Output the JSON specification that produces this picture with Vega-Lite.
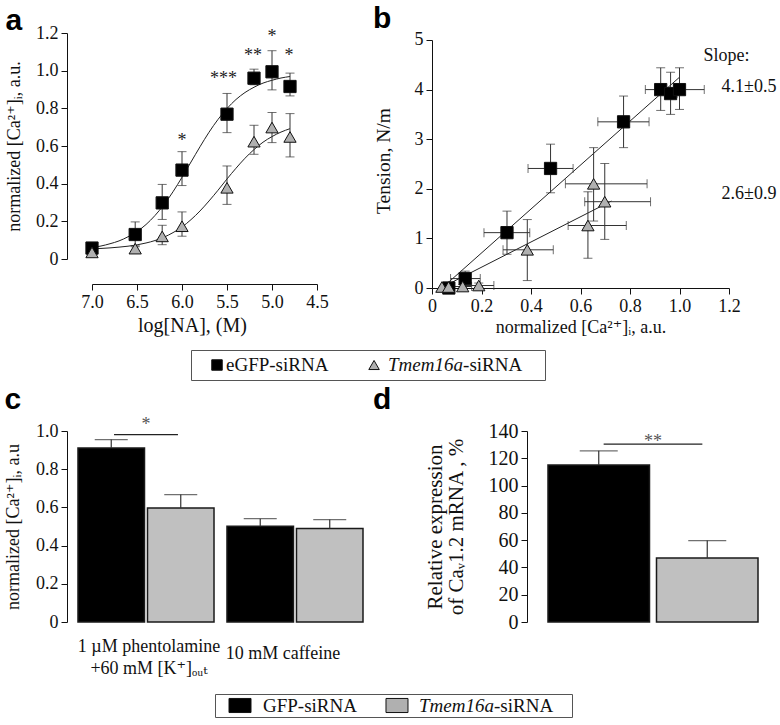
{
  "$schema": "https://vega.github.io/schema/vega-lite/v6.json",
  "background": "white",
  "padding": {"left": 4, "top": 3, "right": 0, "bottom": 0},
  "columns": 1,
  "spacing": 4,
  "config": {
    "view": {"stroke": null},
    "font": "Liberation Serif, DejaVu Serif, serif",
    "axis": {"labelFont": "Liberation Serif, DejaVu Serif, serif", "titleFont": "Liberation Serif, DejaVu Serif, serif", "labelFontSize": 18, "titleFontSize": 18, "titleFontWeight": "normal", "labelColor": "#111", "titleColor": "#111", "domainColor": "#111", "tickColor": "#111", "grid": false, "tickSize": 6, "labelPadding": 3, "domainWidth": 1, "tickWidth": 1, "labelOverlap": false, "labelFlush": false, "tickCount": 30},
    "title": {"font": "Liberation Sans, Arial, sans-serif", "fontSize": 30, "fontWeight": "bold", "anchor": "start", "frame": "bounds", "baseline": "top", "color": "#000"},
    "text": {"font": "Liberation Serif, DejaVu Serif, serif"}
  },
  "datasets": {
    "a_pts": [
      {"grp": "e", "p": 7.0, "v": 0.058, "lo": 0.04, "hi": 0.08},
      {"grp": "e", "p": 6.52, "v": 0.13, "lo": 0.065, "hi": 0.197},
      {"grp": "e", "p": 6.22, "v": 0.298, "lo": 0.21, "hi": 0.396},
      {"grp": "e", "p": 6.0, "v": 0.472, "lo": 0.39, "hi": 0.57},
      {"grp": "e", "p": 5.5, "v": 0.769, "lo": 0.671, "hi": 0.879},
      {"grp": "e", "p": 5.2, "v": 0.96, "lo": 0.925, "hi": 1.008},
      {"grp": "e", "p": 5.0, "v": 0.994, "lo": 0.898, "hi": 1.106},
      {"grp": "e", "p": 4.8, "v": 0.916, "lo": 0.866, "hi": 0.987},
      {"grp": "t", "p": 7.0, "v": 0.035, "lo": 0.022, "hi": 0.055},
      {"grp": "t", "p": 6.52, "v": 0.055, "lo": 0.04, "hi": 0.07},
      {"grp": "t", "p": 6.22, "v": 0.12, "lo": 0.076, "hi": 0.179},
      {"grp": "t", "p": 6.0, "v": 0.174, "lo": 0.121, "hi": 0.25},
      {"grp": "t", "p": 5.5, "v": 0.378, "lo": 0.29, "hi": 0.494},
      {"grp": "t", "p": 5.2, "v": 0.623, "lo": 0.556, "hi": 0.71},
      {"grp": "t", "p": 5.0, "v": 0.698, "lo": 0.618, "hi": 0.778},
      {"grp": "t", "p": 4.8, "v": 0.648, "lo": 0.542, "hi": 0.772}
    ],
    "a_fit": [
      {"grp": "e", "p": 7.0, "v": 0.061}, {"grp": "e", "p": 6.9, "v": 0.069}, {"grp": "e", "p": 6.8, "v": 0.081}, {"grp": "e", "p": 6.7, "v": 0.096},
      {"grp": "e", "p": 6.6, "v": 0.118}, {"grp": "e", "p": 6.5, "v": 0.146}, {"grp": "e", "p": 6.4, "v": 0.183}, {"grp": "e", "p": 6.3, "v": 0.231},
      {"grp": "e", "p": 6.2, "v": 0.289}, {"grp": "e", "p": 6.1, "v": 0.357}, {"grp": "e", "p": 6.0, "v": 0.434}, {"grp": "e", "p": 5.9, "v": 0.515},
      {"grp": "e", "p": 5.8, "v": 0.596}, {"grp": "e", "p": 5.7, "v": 0.673}, {"grp": "e", "p": 5.6, "v": 0.741}, {"grp": "e", "p": 5.5, "v": 0.799},
      {"grp": "e", "p": 5.4, "v": 0.847}, {"grp": "e", "p": 5.3, "v": 0.884}, {"grp": "e", "p": 5.2, "v": 0.912}, {"grp": "e", "p": 5.1, "v": 0.934},
      {"grp": "e", "p": 5.0, "v": 0.949}, {"grp": "e", "p": 4.9, "v": 0.961}, {"grp": "e", "p": 4.8, "v": 0.969},
      {"grp": "t", "p": 7.0, "v": 0.055}, {"grp": "t", "p": 6.9, "v": 0.056}, {"grp": "t", "p": 6.8, "v": 0.059}, {"grp": "t", "p": 6.7, "v": 0.063},
      {"grp": "t", "p": 6.6, "v": 0.068}, {"grp": "t", "p": 6.5, "v": 0.075}, {"grp": "t", "p": 6.4, "v": 0.085}, {"grp": "t", "p": 6.3, "v": 0.098},
      {"grp": "t", "p": 6.2, "v": 0.116}, {"grp": "t", "p": 6.1, "v": 0.14}, {"grp": "t", "p": 6.0, "v": 0.17}, {"grp": "t", "p": 5.9, "v": 0.209},
      {"grp": "t", "p": 5.8, "v": 0.255}, {"grp": "t", "p": 5.7, "v": 0.308}, {"grp": "t", "p": 5.6, "v": 0.365}, {"grp": "t", "p": 5.5, "v": 0.425},
      {"grp": "t", "p": 5.4, "v": 0.482}, {"grp": "t", "p": 5.3, "v": 0.535}, {"grp": "t", "p": 5.2, "v": 0.581}, {"grp": "t", "p": 5.1, "v": 0.62},
      {"grp": "t", "p": 5.0, "v": 0.65}, {"grp": "t", "p": 4.9, "v": 0.674}, {"grp": "t", "p": 4.8, "v": 0.692}
    ],
    "a_star": [
      {"p": 6.0, "v": 0.644, "t": "*"},
      {"p": 5.54, "v": 0.973, "t": "***"},
      {"p": 5.21, "v": 1.094, "t": "**"},
      {"p": 5.0, "v": 1.195, "t": "*"},
      {"p": 4.81, "v": 1.094, "t": "*"}
    ],
    "b_pts": [
      {"grp": "e", "x": 0.068, "y": 0.0},
      {"grp": "e", "x": 0.134, "y": 0.19, "xlo": 0.075, "xhi": 0.195, "ylo": 0.04, "yhi": 0.34},
      {"grp": "e", "x": 0.303, "y": 1.116, "xlo": 0.21, "xhi": 0.395, "ylo": 0.68, "yhi": 1.55},
      {"grp": "e", "x": 0.479, "y": 2.41, "xlo": 0.388, "xhi": 0.57, "ylo": 1.92, "yhi": 2.9},
      {"grp": "e", "x": 0.774, "y": 3.35, "xlo": 0.67, "xhi": 0.877, "ylo": 2.83, "yhi": 3.87},
      {"grp": "e", "x": 0.924, "y": 4.0, "xlo": 0.862, "xhi": 0.98, "ylo": 3.58, "yhi": 4.44},
      {"grp": "e", "x": 0.964, "y": 3.92, "xlo": 0.94, "xhi": 0.99, "ylo": 3.5, "yhi": 4.35},
      {"grp": "e", "x": 1.0, "y": 4.0, "xlo": 0.94, "xhi": 1.1, "ylo": 3.6, "yhi": 4.44},
      {"grp": "t", "x": 0.04, "y": 0.02},
      {"grp": "t", "x": 0.067, "y": 0.02},
      {"grp": "t", "x": 0.124, "y": 0.03, "xlo": 0.09, "xhi": 0.16, "ylo": 0.0, "yhi": 0.07},
      {"grp": "t", "x": 0.189, "y": 0.05, "xlo": 0.125, "xhi": 0.25, "ylo": 0.0, "yhi": 0.1},
      {"grp": "t", "x": 0.385, "y": 0.77, "xlo": 0.287, "xhi": 0.49, "ylo": 0.15, "yhi": 1.38},
      {"grp": "t", "x": 0.63, "y": 1.26, "xlo": 0.55, "xhi": 0.785, "ylo": 0.6, "yhi": 1.94},
      {"grp": "t", "x": 0.653, "y": 2.1, "xlo": 0.539, "xhi": 0.869, "ylo": 1.35, "yhi": 2.83},
      {"grp": "t", "x": 0.698, "y": 1.74, "xlo": 0.617, "xhi": 0.883, "ylo": 0.98, "yhi": 2.51}
    ],
    "b_fit": [
      {"grp": "e", "x": 0.065, "y": 0.108}, {"grp": "e", "x": 1.0, "y": 4.25},
      {"grp": "t", "x": 0.051, "y": 0.04}, {"grp": "t", "x": 0.725, "y": 1.754}
    ],
    "b_txt": [
      {"x": 1.097, "y": 4.68, "t": "Slope:"},
      {"x": 1.17, "y": 4.05, "t": "4.1±0.5"},
      {"x": 1.17, "y": 1.89, "t": "2.6±0.9"}
    ],
    "c_bars": [
      {"cond": "phe", "si": "GFP", "v": 0.911, "hi": 0.955},
      {"cond": "phe", "si": "Tmem", "v": 0.597, "hi": 0.667},
      {"cond": "caf", "si": "GFP", "v": 0.501, "hi": 0.541},
      {"cond": "caf", "si": "Tmem", "v": 0.489, "hi": 0.536}
    ],
    "c_sig": [{"cond": "phe", "y": 0.978, "y2": 0.984, "ty": 1.047, "t": "*"}],
    "d_bars": [
      {"g": "all", "si": "GFP", "v": 115, "hi": 125.5},
      {"g": "all", "si": "Tmem", "v": 47, "hi": 59.7}
    ],
    "d_sig": [{"g": "all", "y": 130, "y2": 130.8, "ty": 134.3, "t": "**"}]
  },
  "concat": [
    {
      "spacing": 44,
      "hconcat": [
        {
          "width": 250, "height": 226,
          "title": {"text": "a", "offset": -12},
          "layer": [
            {
              "data": {"name": "a_fit"},
              "mark": {"type": "line", "color": "#222", "strokeWidth": 1, "interpolate": "monotone"},
              "encoding": {
                "x": {"field": "p", "type": "quantitative", "scale": {"domain": [7.2778, 4.5], "nice": false, "zero": false},
                      "axis": {"values": [7, 6.5, 6, 5.5, 5, 4.5], "labelExpr": "format(datum.value, '.1f')", "labelOverlap": false, "offset": 25, "domainDash": [0, 25, 225, 0], "title": "log[NA], (M)", "titleFontSize": 20, "titlePadding": 4}},
                "y": {"field": "v", "type": "quantitative", "scale": {"domain": [0, 1.2], "nice": false, "zero": false},
                      "axis": {"values": [0, 0.2, 0.4, 0.6, 0.8, 1.0, 1.2], "labelExpr": "datum.value == 0 ? '0' : format(datum.value, '.1f')", "labelOverlap": false, "title": "normalized [Ca²⁺]ᵢ, a.u.", "titlePadding": 12}},
                "detail": {"field": "grp"}
              }
            },
            {
              "data": {"name": "a_pts"},
              "mark": {"type": "rule", "color": "#333", "strokeWidth": 1},
              "encoding": {"x": {"field": "p", "type": "quantitative"}, "y": {"field": "lo", "type": "quantitative"}, "y2": {"field": "hi"}}
            },
            {
              "data": {"name": "a_pts"},
              "mark": {"type": "tick", "orient": "horizontal", "color": "#333", "size": 9, "thickness": 1},
              "encoding": {"x": {"field": "p", "type": "quantitative"}, "y": {"field": "hi", "type": "quantitative"}}
            },
            {
              "data": {"name": "a_pts"},
              "mark": {"type": "tick", "orient": "horizontal", "color": "#333", "size": 9, "thickness": 1},
              "encoding": {"x": {"field": "p", "type": "quantitative"}, "y": {"field": "lo", "type": "quantitative"}}
            },
            {
              "data": {"name": "a_pts"},
              "mark": {"type": "point", "filled": true, "size": 150, "stroke": "#111", "strokeWidth": 1, "opacity": 1},
              "encoding": {
                "x": {"field": "p", "type": "quantitative"},
                "y": {"field": "v", "type": "quantitative"},
                "shape": {"field": "grp", "type": "nominal", "scale": {"domain": ["e", "t"], "range": ["square", "triangle-up"]}, "legend": null},
                "fill": {"field": "grp", "type": "nominal", "scale": {"domain": ["e", "t"], "range": ["#000000", "#b0b0b0"]}, "legend": null}
              }
            },
            {
              "data": {"name": "a_star"},
              "mark": {"type": "text", "fontSize": 18, "baseline": "alphabetic", "dy": 8, "color": "#222"},
              "encoding": {"x": {"field": "p", "type": "quantitative"}, "y": {"field": "v", "type": "quantitative"}, "text": {"field": "t"}}
            }
          ]
        },
        {
          "width": 297, "height": 255,
          "title": {"text": "b", "offset": -3},
          "layer": [
            {
              "data": {"name": "b_fit"},
              "mark": {"type": "line", "color": "#222", "strokeWidth": 1},
              "encoding": {
                "x": {"field": "x", "type": "quantitative", "scale": {"domain": [0, 1.2], "nice": false},
                      "axis": {"values": [0, 0.2, 0.4, 0.6, 0.8, 1.0, 1.2], "labelExpr": "datum.value == 0 ? '0' : format(datum.value, '.1f')", "labelOverlap": false, "title": "normalized [Ca²⁺]ᵢ, a.u.", "titlePadding": 3}},
                "y": {"field": "y", "type": "quantitative", "scale": {"domain": [0, 5.1411], "nice": false},
                      "axis": {"values": [0, 1, 2, 3, 4, 5], "format": "d", "labelOverlap": false, "domainDash": [248, 60], "title": "Tension, N/m", "titleFontSize": 19.5, "titlePadding": 21}},
                "detail": {"field": "grp"}
              }
            },
            {
              "data": {"name": "b_pts"},
              "transform": [{"filter": "isValid(datum.xlo)"}],
              "mark": {"type": "rule", "color": "#333", "strokeWidth": 1},
              "encoding": {"x": {"field": "x", "type": "quantitative"}, "y": {"field": "ylo", "type": "quantitative"}, "y2": {"field": "yhi"}}
            },
            {
              "data": {"name": "b_pts"},
              "transform": [{"filter": "isValid(datum.xlo)"}],
              "mark": {"type": "rule", "color": "#333", "strokeWidth": 1},
              "encoding": {"x": {"field": "xlo", "type": "quantitative"}, "x2": {"field": "xhi"}, "y": {"field": "y", "type": "quantitative"}}
            },
            {
              "data": {"name": "b_pts"},
              "transform": [{"filter": "isValid(datum.xlo)"}, {"fold": ["ylo", "yhi"], "as": ["k", "cap"]}],
              "mark": {"type": "tick", "orient": "horizontal", "color": "#333", "size": 9, "thickness": 1},
              "encoding": {"x": {"field": "x", "type": "quantitative"}, "y": {"field": "cap", "type": "quantitative"}}
            },
            {
              "data": {"name": "b_pts"},
              "transform": [{"filter": "isValid(datum.xlo)"}, {"fold": ["xlo", "xhi"], "as": ["k", "cap"]}],
              "mark": {"type": "tick", "orient": "vertical", "color": "#333", "size": 9, "thickness": 1},
              "encoding": {"x": {"field": "cap", "type": "quantitative"}, "y": {"field": "y", "type": "quantitative"}}
            },
            {
              "data": {"name": "b_pts"},
              "mark": {"type": "point", "filled": true, "size": 150, "stroke": "#111", "strokeWidth": 1, "opacity": 1},
              "encoding": {
                "x": {"field": "x", "type": "quantitative"},
                "y": {"field": "y", "type": "quantitative"},
                "shape": {"field": "grp", "type": "nominal", "scale": {"domain": ["e", "t"], "range": ["square", "triangle-up"]}, "legend": null},
                "fill": {"field": "grp", "type": "nominal", "scale": {"domain": ["e", "t"], "range": ["#000000", "#b0b0b0"]}, "legend": null}
              }
            },
            {
              "data": {"name": "b_txt"},
              "mark": {"type": "text", "fontSize": 18, "align": "left", "baseline": "middle", "color": "#111"},
              "encoding": {"x": {"field": "x", "type": "quantitative"}, "y": {"field": "y", "type": "quantitative"}, "text": {"field": "t"}}
            }
          ]
        }
      ]
    },
    {
      "spacing": 0,
      "hconcat": [
        {"width": 123, "height": 30, "data": {"values": []}, "mark": "point"},
        {
          "width": 354, "height": 30,
          "title": {"text": " ", "fontSize": 2, "offset": 7},
          "view": {"stroke": "#555", "strokeWidth": 1},
          "encoding": {"x": {"field": "k", "type": "nominal", "axis": null, "scale": {"type": "point", "domain": ["e", "t"], "padding": 0.627, "align": 0.1066}}},
          "layer": [
            {
              "data": {"values": [{"k": "e"}, {"k": "t"}]},
              "mark": {"type": "point", "filled": true, "size": 110, "xOffset": 5, "stroke": "#111", "strokeWidth": 1, "opacity": 1},
              "encoding": {
                "shape": {"field": "k", "type": "nominal", "scale": {"domain": ["e", "t"], "range": ["square", "triangle-up"]}, "legend": null},
                "fill": {"field": "k", "type": "nominal", "scale": {"domain": ["e", "t"], "range": ["#000000", "#b0b0b0"]}, "legend": null}
              }
            },
            {
              "data": {"values": [{"k": "e", "lab": "eGFP-siRNA"}]},
              "mark": {"type": "text", "align": "left", "baseline": "middle", "dx": 14, "fontSize": 19, "color": "#111"},
              "encoding": {"text": {"field": "lab"}}
            },
            {
              "data": {"values": [{"k": "t", "lab": "Tmem16a"}]},
              "mark": {"type": "text", "align": "left", "baseline": "middle", "dx": 19, "fontSize": 19, "fontStyle": "italic", "color": "#111"},
              "encoding": {"text": {"field": "lab"}}
            },
            {
              "data": {"values": [{"k": "t", "lab": "-siRNA"}]},
              "mark": {"type": "text", "align": "left", "baseline": "middle", "dx": 94, "fontSize": 19, "color": "#111"},
              "encoding": {"text": {"field": "lab"}}
            }
          ]
        }
      ]
    },
    {
      "spacing": 6,
      "resolve": {"scale": {"x": "independent", "xOffset": "independent", "y": "independent", "fill": "independent"}},
      "hconcat": [
        {
          "width": 300, "height": 191,
          "title": {"text": "c", "offset": 1},
          "layer": [
            {
              "data": {"name": "c_bars"},
              "mark": {"type": "bar", "stroke": "#1a1a1a", "strokeWidth": 1.5},
              "encoding": {
                "x": {"field": "cond", "type": "nominal", "sort": ["phe", "caf"], "scale": {"domain": ["phe", "caf"], "paddingInner": 0.087, "paddingOuter": 0.0503, "align": 0.733},
                      "axis": {"title": null, "domain": false, "ticks": false, "labelAngle": 0, "labelLimit": 300, "labelBaseline": "middle", "labelLineHeight": 22, "labelOverlap": false,
                               "labelPadding": {"condition": {"test": "datum.value == 'caf'", "value": 31}, "value": 24},
                               "labelOffset": {"condition": {"test": "datum.value == 'caf'", "value": -12}, "value": 3},
                               "labelExpr": "datum.value == 'phe' ? ['1 µM phentolamine', '+60 mM [K⁺]ₒᵤₜ'] : '10 mM caffeine'"}},
                "xOffset": {"field": "si", "type": "nominal", "sort": ["GFP", "Tmem"], "scale": {"domain": ["GFP", "Tmem"], "paddingInner": 0.043, "paddingOuter": 0}},
                "y": {"field": "v", "type": "quantitative", "scale": {"domain": [0, 1], "nice": false},
                      "axis": {"values": [0, 0.2, 0.4, 0.6, 0.8, 1.0], "labelExpr": "datum.value == 0 ? '0' : format(datum.value, '.1f')", "labelOverlap": false, "title": "normalized [Ca²⁺]ᵢ, a.u", "titlePadding": 13}},
                "fill": {"field": "si", "type": "nominal", "scale": {"domain": ["GFP", "Tmem"], "range": ["#000000", "#c0c0c0"]}, "legend": null}
              }
            },
            {
              "data": {"name": "c_bars"},
              "mark": {"type": "rule", "color": "#333", "strokeWidth": 1.2},
              "encoding": {"x": {"field": "cond", "type": "nominal"}, "xOffset": {"field": "si", "type": "nominal"}, "y": {"field": "v", "type": "quantitative"}, "y2": {"field": "hi"}}
            },
            {
              "data": {"name": "c_bars"},
              "mark": {"type": "tick", "color": "#333", "size": 33, "thickness": 1.2},
              "encoding": {"x": {"field": "cond", "type": "nominal"}, "xOffset": {"field": "si", "type": "nominal"}, "y": {"field": "hi", "type": "quantitative"}}
            },
            {
              "data": {"name": "c_sig"},
              "mark": {"type": "bar", "width": {"band": 0.47}, "color": "#222"},
              "encoding": {"x": {"field": "cond", "type": "nominal"}, "y": {"field": "y", "type": "quantitative"}, "y2": {"field": "y2"}}
            },
            {
              "data": {"name": "c_sig"},
              "mark": {"type": "text", "fontSize": 18, "baseline": "alphabetic", "dy": 8, "color": "#555"},
              "encoding": {"x": {"field": "cond", "type": "nominal"}, "y": {"field": "ty", "type": "quantitative"}, "text": {"field": "t"}}
            }
          ]
        },
        {
          "width": 240, "height": 191,
          "title": {"text": "d", "offset": 6, "dx": -51},
          "layer": [
            {
              "data": {"name": "d_bars"},
              "mark": {"type": "bar", "stroke": "#1a1a1a", "strokeWidth": 1.5},
              "encoding": {
                "x": {"field": "g", "type": "nominal", "scale": {"domain": ["all"], "paddingInner": 0, "paddingOuter": 0.0714, "align": 0.7}, "axis": null},
                "xOffset": {"field": "si", "type": "nominal", "sort": ["GFP", "Tmem"], "scale": {"domain": ["GFP", "Tmem"], "paddingInner": 0.0645, "paddingOuter": 0}},
                "y": {"field": "v", "type": "quantitative", "scale": {"domain": [0, 140], "nice": false},
                      "axis": {"values": [0, 20, 40, 60, 80, 100, 120, 140], "format": "d", "labelOverlap": false, "labelFontSize": 20, "title": ["Relative expression", "of Caᵥ1.2 mRNA , %"], "titleFontSize": 21, "titlePadding": 22, "titleLineHeight": 21}},
                "fill": {"field": "si", "type": "nominal", "scale": {"domain": ["GFP", "Tmem"], "range": ["#000000", "#c0c0c0"]}, "legend": null}
              }
            },
            {
              "data": {"name": "d_bars"},
              "mark": {"type": "rule", "color": "#333", "strokeWidth": 1.2},
              "encoding": {"x": {"field": "g", "type": "nominal"}, "xOffset": {"field": "si", "type": "nominal"}, "y": {"field": "v", "type": "quantitative"}, "y2": {"field": "hi"}}
            },
            {
              "data": {"name": "d_bars"},
              "mark": {"type": "tick", "color": "#333", "size": 38, "thickness": 1.2},
              "encoding": {"x": {"field": "g", "type": "nominal"}, "xOffset": {"field": "si", "type": "nominal"}, "y": {"field": "hi", "type": "quantitative"}}
            },
            {
              "data": {"name": "d_sig"},
              "mark": {"type": "bar", "width": {"band": 0.47}, "color": "#222"},
              "encoding": {"x": {"field": "g", "type": "nominal"}, "y": {"field": "y", "type": "quantitative"}, "y2": {"field": "y2"}}
            },
            {
              "data": {"name": "d_sig"},
              "mark": {"type": "text", "fontSize": 18, "baseline": "alphabetic", "dy": 8, "color": "#555"},
              "encoding": {"x": {"field": "g", "type": "nominal"}, "y": {"field": "ty", "type": "quantitative"}, "text": {"field": "t"}}
            }
          ]
        }
      ]
    },
    {
      "spacing": 0,
      "hconcat": [
        {"width": 147, "height": 23, "data": {"values": []}, "mark": "point"},
        {
          "width": 357, "height": 23,
          "title": {"text": " ", "fontSize": 2, "offset": 10},
          "view": {"stroke": "#555", "strokeWidth": 1},
          "encoding": {"x": {"field": "k", "type": "nominal", "axis": null, "scale": {"type": "point", "domain": ["g", "t"], "padding": 0.637, "align": 0.07}}},
          "layer": [
            {
              "data": {"values": [{"k": "g"}, {"k": "t"}]},
              "mark": {"type": "point", "filled": true, "size": 484, "xOffset": 11, "shape": "M-1,-0.64H1V0.64H-1Z", "stroke": "#111", "strokeWidth": 1, "opacity": 1},
              "encoding": {
                "fill": {"field": "k", "type": "nominal", "scale": {"domain": ["g", "t"], "range": ["#000000", "#c0c0c0"]}, "legend": null}
              }
            },
            {
              "data": {"values": [{"k": "g", "lab": "GFP-siRNA"}]},
              "mark": {"type": "text", "align": "left", "baseline": "middle", "dx": 34, "fontSize": 19, "color": "#111"},
              "encoding": {"text": {"field": "lab"}}
            },
            {
              "data": {"values": [{"k": "t", "lab": "Tmem16a"}]},
              "mark": {"type": "text", "align": "left", "baseline": "middle", "dx": 33, "fontSize": 19, "fontStyle": "italic", "color": "#111"},
              "encoding": {"text": {"field": "lab"}}
            },
            {
              "data": {"values": [{"k": "t", "lab": "-siRNA"}]},
              "mark": {"type": "text", "align": "left", "baseline": "middle", "dx": 108, "fontSize": 19, "color": "#111"},
              "encoding": {"text": {"field": "lab"}}
            }
          ]
        }
      ]
    }
  ]
}
